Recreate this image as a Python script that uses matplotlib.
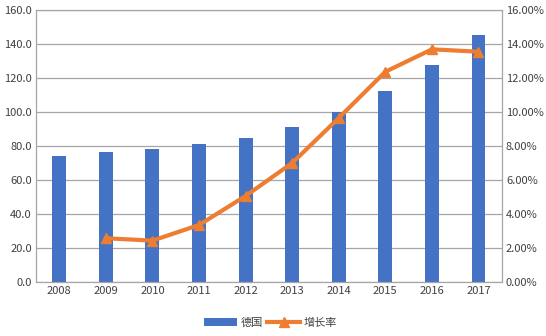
import matplotlib
matplotlib.use("Agg")
import matplotlib.pyplot as plt
import numpy as np
from matplotlib.ticker import FuncFormatter, MultipleLocator

plt.rcParams['font.family'] = ['Noto Sans CJK SC', 'DejaVu Sans']

years = ['2008', '2009', '2010', '2011', '2012', '2013', '2014', '2015', '2016', '2017']
germany = [74.4, 76.4, 78.3, 80.9, 84.8, 91.2, 100.0, 112.4, 127.6, 145.3]
growth_years = ['2009', '2010', '2011', '2012', '2013', '2014', '2015', '2016', '2017']
growth = [2.57, 2.43, 3.35, 5.06, 7.00, 9.65, 12.37, 13.69, 13.55]

fig = plt.figure(figsize=(5.46, 3.36), dpi=100)
ax = fig.add_axes([0.066, 0.161, 0.853, 0.809])
x = np.arange(len(years))
bars = ax.bar(x, germany, width=0.3, color='#4472C4', label='德国', zorder=2)
ax.set_ylim(0, 160)
ax.set_xlim(-0.5, len(years) - 0.5)
ax.yaxis.set_major_locator(MultipleLocator(20))
ax.yaxis.set_major_formatter(FuncFormatter(lambda v, p: f'{v:.1f}'))
ax.set_xticks(x)
ax.set_xticklabels(years)
ax.grid(axis='y', color='#A6A6A6', linewidth=0.9, zorder=0)
ax.set_axisbelow(True)
for s in ax.spines.values():
    s.set_color('#A6A6A6')
    s.set_linewidth(0.9)
ax.tick_params(axis='both', length=0, labelsize=8, colors='#404040', pad=3)

ax2 = ax.twinx()
gx = [years.index(y) for y in growth_years]
line, = ax2.plot(gx, growth, color='#ED7D31', linewidth=3, marker='^', markersize=7,
                 label='增长率', zorder=3)
ax2.set_ylim(0, 16)
ax2.yaxis.set_major_locator(MultipleLocator(2))
ax2.yaxis.set_major_formatter(FuncFormatter(lambda v, p: f'{v:.2f}%'))
ax2.tick_params(axis='y', length=0, labelsize=8, colors='#404040', pad=3)
for s in ax2.spines.values():
    s.set_visible(False)

fig.legend(handles=[bars, line], labels=['德国', '增长率'], loc='center',
           bbox_to_anchor=(0.495, 0.04), ncol=2, frameon=False, fontsize=8,
           handlelength=3.0, columnspacing=0.4, handletextpad=0.3,
           labelcolor='#404040')

fig.savefig('out.png', dpi=100)
